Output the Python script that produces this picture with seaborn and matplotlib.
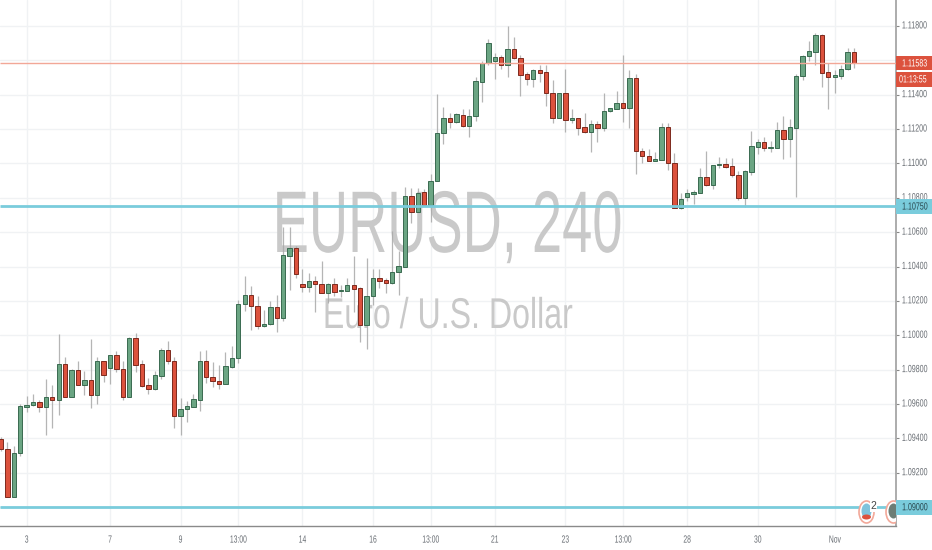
import matplotlib
matplotlib.use("Agg")
import matplotlib.pyplot as plt
from matplotlib.patches import Ellipse, Rectangle
from matplotlib.patheffects import AbstractPathEffect
from matplotlib.transforms import Affine2D, Bbox
import pandas as pd
import seaborn as sns

# prices in points (1e-5)
opens = [109394, 109341, 109056, 109312, 109584, 109593, 109611, 109584, 109640, 109621,
         109832, 109642, 109799, 109710, 109741, 109654, 109848, 109807, 109884, 109803,
         109642, 109985, 109832, 109708, 109690, 109764, 109912, 109852, 109531, 109568,
         109584, 109626, 109848, 109756, 109735, 109716, 109817, 109867, 110182, 110237,
         110173, 110052, 110064, 110167, 110101, 110464, 110508, 110301, 110281, 110316,
         110301, 110244, 110301, 110256, 110260, 110291, 110273, 110060, 110231, 110332,
         110322, 110303, 110367, 110400, 110811, 110720, 110834, 110760, 110900, 111175,
         111265, 111243, 111284, 111218, 111278, 111476, 111587, 111596, 111620, 111575,
         111668, 111616, 111519, 111490, 111546, 111530, 111412, 111267, 111408, 111251,
         111263, 111210, 111181, 111232, 111208, 111303, 111319, 111350, 111321, 111497,
         111073, 111045, 111014, 111022, 111210, 111003, 110739, 110803, 110824, 110830,
         110919, 110873, 110989, 110999, 110983, 110935, 110797, 110952, 111098, 111125,
         111088, 111090, 111195, 111144, 111208, 111507, 111624, 111649, 111748, 111530,
         111503, 111511, 111548, 111647]
closes = [109341, 109056, 109316, 109588, 109597, 109613, 109584, 109640, 109621, 109832,
          109642, 109799, 109712, 109741, 109654, 109848, 109770, 109884, 109803, 109642,
          109985, 109828, 109706, 109690, 109768, 109912, 109852, 109531, 109570, 109588,
          109628, 109848, 109755, 109733, 109716, 109820, 109869, 110183, 110237, 110171,
          110054, 110068, 110167, 110103, 110466, 110510, 110357, 110281, 110318, 110299,
          110244, 110301, 110254, 110264, 110291, 110272, 110060, 110231, 110332, 110318,
          110303, 110370, 110402, 110811, 110720, 110830, 110760, 110900, 111179, 111263,
          111243, 111286, 111218, 111278, 111478, 111587, 111701, 111622, 111575, 111668,
          111614, 111517, 111490, 111546, 111528, 111412, 111267, 111408, 111251, 111265,
          111208, 111181, 111232, 111208, 111307, 111321, 111350, 111321, 111497, 111071,
          111043, 111016, 111024, 111210, 111001, 110739, 110795, 110826, 110834, 110919,
          110873, 110993, 110999, 110978, 110931, 110799, 110956, 111100, 111127, 111090,
          111096, 111195, 111142, 111210, 111509, 111625, 111653, 111748, 111528, 111505,
          111513, 111552, 111647, 111585]
highs = [109409, 109376, 109357, 109599, 109646, 109656, 109626, 109743, 109710, 110005,
         109875, 109801, 109850, 109791, 109981, 109875, 109850, 109884, 109908, 109850,
         109987, 110014, 109855, 109753, 109791, 109923, 109966, 109875, 109636, 109619,
         109661, 109908, 109912, 109842, 109826, 109900, 109939, 110205, 110345, 110287,
         110231, 110147, 110201, 110235, 110629, 110629, 110522, 110384, 110361, 110345,
         110435, 110306, 110332, 110293, 110336, 110464, 110283, 110448, 110386, 110384,
         110332, 110607, 110493, 110861, 110855, 110855, 110850, 110937, 111404, 111327,
         111292, 111292, 111315, 111317, 111505, 111598, 111724, 111641, 111631, 111800,
         111738, 111631, 111534, 111548, 111573, 111573, 111486, 111408, 111548, 111317,
         111267, 111292, 111253, 111247, 111408, 111325, 111424, 111631, 111544, 111521,
         111088, 111082, 111065, 111234, 111234, 111059, 110830, 110849, 110846, 110972,
         111073, 110993, 111036, 111030, 111030, 110956, 110962, 111189, 111142, 111152,
         111133, 111239, 111276, 111259, 111521, 111631, 111713, 111757, 111752, 111587,
         111544, 111573, 111670, 111670]
lows = [109328, 109056, 109056, 109299, 109555, 109588, 109555, 109419, 109458, 109535,
        109638, 109638, 109710, 109652, 109578, 109599, 109729, 109716, 109784, 109626,
        109638, 109789, 109700, 109656, 109681, 109743, 109832, 109462, 109419, 109496,
        109580, 109561, 109723, 109700, 109690, 109714, 109807, 109836, 110143, 110031,
        110037, 110047, 110060, 110021, 110085, 110264, 110332, 110250, 110254, 110138,
        110244, 110186, 110231, 110225, 110256, 110138, 109963, 109920, 110176, 110273,
        110244, 110299, 110235, 110396, 110656, 110716, 110757, 110661, 110900, 111113,
        111208, 111237, 111214, 111156, 111249, 111360, 111571, 111490, 111548, 111501,
        111610, 111393, 111457, 111447, 111476, 111334, 111234, 111263, 111181, 111237,
        111166, 111179, 111069, 111123, 111191, 111298, 111317, 111243, 111208, 110937,
        111001, 111014, 111014, 111020, 110962, 110739, 110735, 110784, 110764, 110826,
        110871, 110849, 110976, 110976, 110921, 110785, 110745, 110931, 111053, 111075,
        111067, 111088, 111026, 111036, 110807, 111484, 111598, 111573, 111447, 111319,
        111408, 111492, 111544, 111558]

tick_pos = [4, 17, 28, 37, 47, 58, 67, 77, 88, 97, 107, 118, 130]
tick_labels = ["3", "7", "9", "13:00", "14", "16", "13:00", "21", "23", "13:00", "28", "30", "Nov"]
price_ticks = [1.09, 1.092, 1.094, 1.096, 1.098, 1.1, 1.102, 1.104, 1.106, 1.108,
               1.11, 1.112, 1.114, 1.116, 1.118]
support = 1.0900
resistance = 1.1075
last_price = 1.11583
countdown = "01:13:55"

df = pd.DataFrame({"open": opens, "high": highs, "low": lows, "close": closes}) / 100000
df["idx"] = range(len(df))
df["up"] = df["close"] >= df["open"]
df["body"] = (df["close"] - df["open"]).abs()
df["bottom"] = df[["open", "close"]].min(axis=1)

GREEN, RED = "#6ba583", "#dc523d"
CYAN = "#7accdc"
GRID = "#f0f2f4"
TXT = "#686d73"
YMIN, YMAX = 1.0889, 1.11951
XMIN, XMAX = -0.156, 139.56


class Squeeze(AbstractPathEffect):
    # the chart's font is narrower than anything installed, so reshape the glyphs
    def __init__(self, sx, about, sy=1):
        super().__init__()
        self.sx = sx
        self.sy = sy
        self.about = about

    def draw_path(self, renderer, gc, tpath, affine, rgbFace=None):
        ext = tpath.get_extents()
        x0 = ext.x0 + self.about * ext.width
        thin = Affine2D().translate(-x0, 0).scale(self.sx, self.sy).translate(x0, 0)
        renderer.draw_path(gc, tpath, thin + affine, rgbFace)


def squeeze(txt, sx, left=False, sy=1):
    about = 0 if left else 0.5
    txt.set_path_effects([Squeeze(sx, about, sy)])
    orig = txt.get_window_extent

    def extent(renderer=None, dpi=None):
        b = orig(renderer, dpi)
        w = b.width * sx
        return Bbox.from_bounds(b.x0 + about * (b.width - w), b.y0, w, b.height)

    txt.get_window_extent = extent
    return txt


sns.set_theme(style="white")
plt.rcParams["font.family"] = ["Liberation Sans", "DejaVu Sans"]

fig = plt.figure(figsize=(9.32, 5.5), dpi=100)
ax = fig.add_axes([0, 24 / 550, 896 / 932, 526 / 550])


def px(x, y):
    # picture pixels to axes fractions
    return x / 896, (526 - y) / 526


# watermark
squeeze(ax.text(*px(270, 252), "EURUSD, 240", transform=ax.transAxes, ha="left", va="baseline",
                fontsize=63, color="#c9c9c9", zorder=1), 0.62, left=True)
squeeze(ax.text(*px(322, 328), "Euro / U.S. Dollar", transform=ax.transAxes, ha="left", va="baseline",
                fontsize=31, color="#c9c9c9", zorder=1), 0.746, left=True)

# wicks
ax.vlines(df["idx"], df["low"], df["high"], color="#a8a8a8", lw=0.9, alpha=0.85, zorder=3)

# bodies
for up, col, edge in [(True, GREEN, "#3a6a50"), (False, RED, "#7d2a1e")]:
    part = df[df["up"] == up]
    sns.barplot(x=part["idx"].values, y=part["body"].values, bottom=part["bottom"].values,
                native_scale=True, color=col, saturation=1, width=0.68, errorbar=None,
                edgecolor=edge, linewidth=0.7, ax=ax, zorder=4)

ax.set_xlim(XMIN, XMAX)
ax.set_ylim(YMIN, YMAX)

ax.hlines(last_price, XMIN, XMAX, color="#f2a797", lw=1, zorder=5)
for lvl in (resistance, support):
    ax.hlines(lvl, XMIN, XMAX, color=CYAN, lw=2, zorder=5)

ax.set_xticks(tick_pos)
ax.set_xticklabels(tick_labels)
ax.yaxis.tick_right()
ax.set_yticks(price_ticks)
# 1.11600 sits under the last price box in the chart
ax.set_yticklabels([f"{p:.5f}" if abs(p - 1.116) > 1e-6 else "" for p in price_ticks])
ax.tick_params(axis="x", length=2.2, width=0.8, color="#888888", labelcolor=TXT, labelsize=7.5, pad=4)
ax.tick_params(axis="y", length=2.2, width=0.8, color="#888888", labelcolor=TXT, labelsize=5.9, pad=2)
for lab in ax.get_xticklabels():
    squeeze(lab, 0.65)
for lab in ax.get_yticklabels():
    squeeze(lab, 0.865, left=True, sy=1.27)
ax.grid(True, color=GRID, lw=1)
ax.set_axisbelow(True)
ax.set_xlabel("")
ax.set_ylabel("")
for side in ("top", "left"):
    ax.spines[side].set_visible(False)
ax.spines["right"].set_color("#a6a6a6")
ax.spines["right"].set_linewidth(1.3)
ax.spines["bottom"].set_color("#8a8a8a")
ax.spines["bottom"].set_linewidth(1)


def scale_box(y, h, txt, col, txt_col, tx=902):
    # y and h in picture pixels
    ax.add_patch(Rectangle(px(896, y + h / 2), 36 / 896, h / 526, transform=ax.transAxes, color=col,
                           clip_on=False, zorder=6, lw=0))
    squeeze(ax.text(*px(tx, y + 0.7), txt, transform=ax.transAxes, ha="left", va="center_baseline",
                    color=txt_col, fontsize=5.9, zorder=7), 0.865, left=True, sy=1.27)


def price_px(p):
    return 526 - (p - YMIN) / (YMAX - YMIN) * 526


scale_box(price_px(last_price), 14, f"{last_price:.5f}", RED, "white")
scale_box(price_px(last_price) + 16, 15, countdown, RED, "white", tx=899)
scale_box(price_px(resistance), 15, f"{resistance:.5f}", CYAN, "#27454c")
scale_box(price_px(support), 15, f"{support:.5f}", CYAN, "#27454c")

# event markers at the bottom right
marks = [(866.5, 512, "#7fc3dc"), (893.5, 512, "#6d7d75")]
for cx, cy, inner in marks:
    ax.add_patch(Ellipse(px(cx, cy), 15 / 896, 22 / 526, transform=ax.transAxes,
                         fc="white", ec="#f2a899", lw=1.2, zorder=8))
    ax.add_patch(Ellipse(px(cx, cy - 1), 10 / 896, 15 / 526, transform=ax.transAxes,
                         fc=inner, ec="none", zorder=8.5))
ax.add_patch(Ellipse(px(866.5, 517), 9 / 896, 5 / 526, transform=ax.transAxes,
                     fc=RED, ec="none", zorder=8.6))
ax.text(*px(873.5, 506), "2", transform=ax.transAxes, ha="center", va="center",
        fontsize=7.5, color="#444444", zorder=9, bbox=dict(fc="white", ec="none", pad=0.5))

fig.savefig("out.png", dpi=100)
